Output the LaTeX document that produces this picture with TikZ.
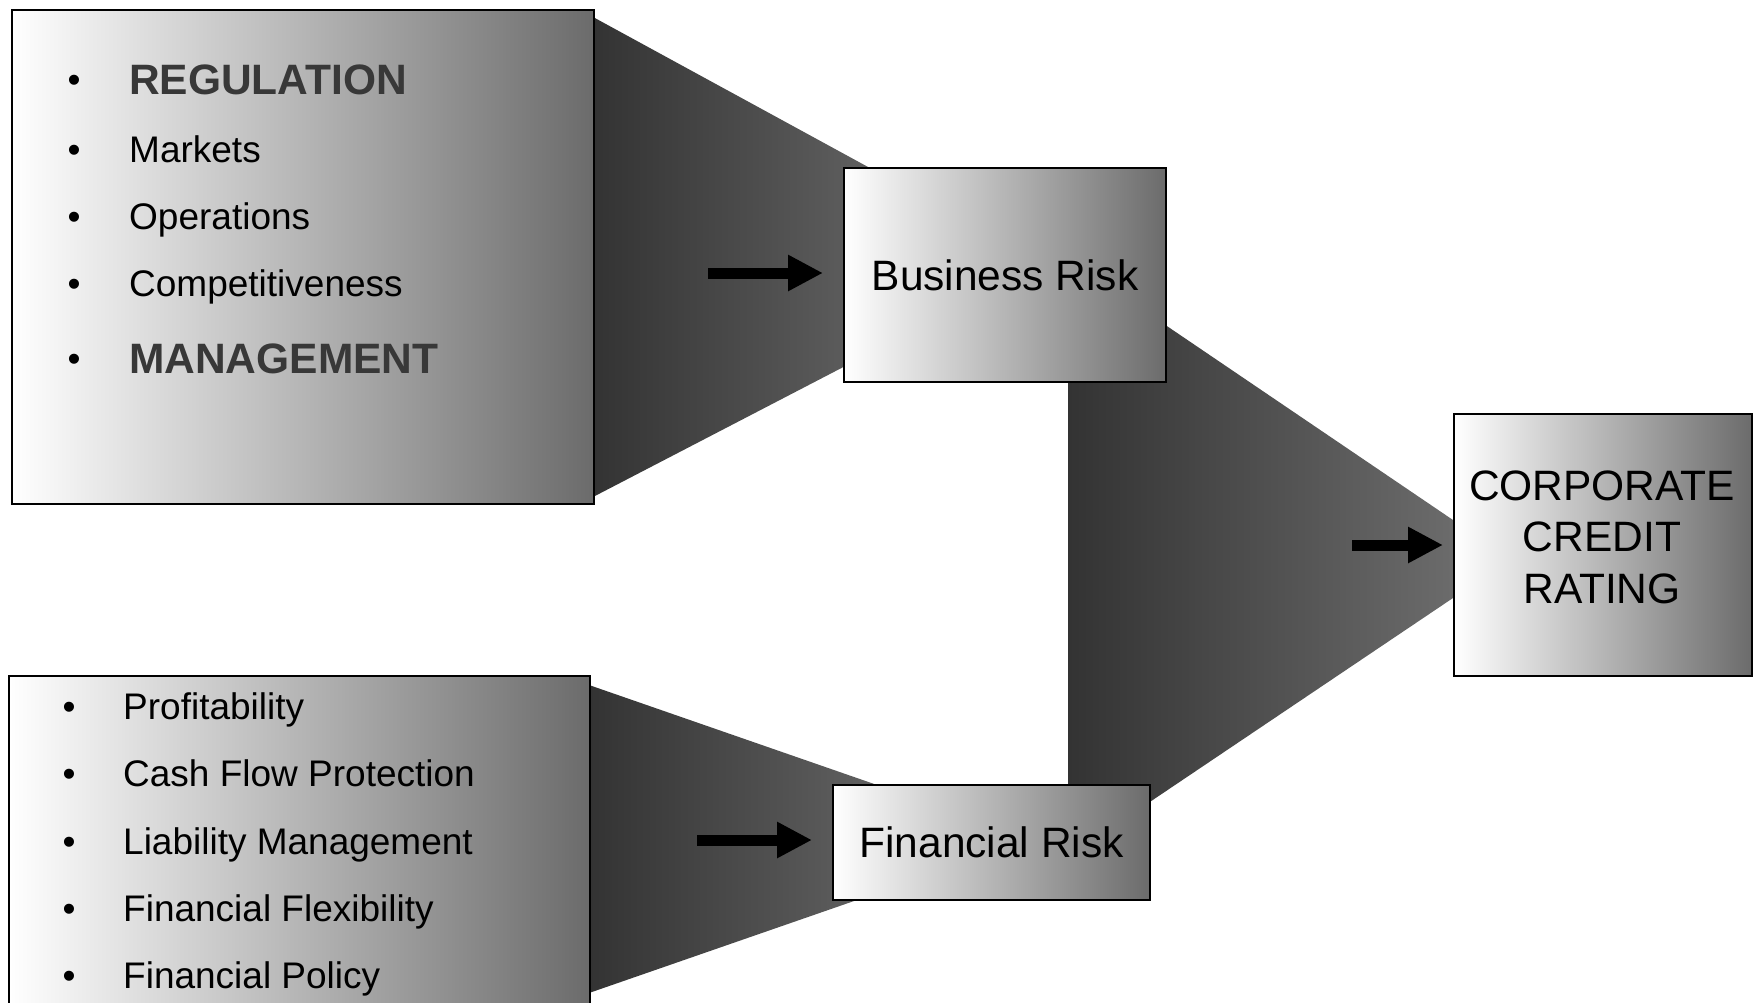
\documentclass[tikz,border=0pt]{standalone}
\usepackage{fontspec}
\setmainfont{Liberation Sans}
\usetikzlibrary{arrows.meta}
\begin{document}
\begin{tikzpicture}[x=1pt,y=-1pt,
  gbox/.style={draw=black, line width=2.2pt, rectangle, inner sep=0pt, anchor=north west,
    left color=white, middle color=black!20, right color=black!58},
  funnel/.style={left color=black!80, right color=black!62},
  bigarrow/.style={line width=11pt, -{Triangle[length=35pt,width=34pt]}},
  item/.style={anchor=base west, inner sep=0pt, font=\fontsize{37}{44}\selectfont},
  bolditem/.style={anchor=base west, inner sep=0pt, font=\fontsize{42.5}{50}\selectfont\bfseries, text=black!78},
  bul/.style={anchor=base, inner sep=0pt, font=\fontsize{37}{44}\selectfont},
  titletext/.style={font=\fontsize{42.5}{51.5}\selectfont, align=center, inner sep=0pt}
]
\useasboundingbox (0,0) rectangle (1755,1002);
\begin{scope}
\clip (0,0) rectangle (1755,1002);

% funnels
\shade[funnel] (593,17) -- (880,173.5) -- (880,348) -- (593,497) -- cycle;
\shade[funnel] (589,685) -- (880,786) -- (880,892) -- (589,993) -- cycle;
\shade[left color=black!80, right color=black!58] (1068,259) -- (1453,520) -- (1453,598) -- (1068,857) -- cycle;

% arrows
\coordinate (a1s) at (708,273);
\coordinate (a1e) at (823,273);
\coordinate (a2s) at (697,840);
\coordinate (a2e) at (812,840);
\coordinate (a3s) at (1352,545);
\coordinate (a3e) at (1443,545);
\draw[bigarrow] (a1s) -- (a1e);
\draw[bigarrow] (a2s) -- (a2e);
\draw[bigarrow] (a3s) -- (a3e);

% boxes
\node[gbox, minimum width=582pt, minimum height=494pt] (reg) at (11,9) {};
\node[gbox, minimum width=581pt, minimum height=380pt] (fin) at (8,675) {};
\node[gbox, minimum width=322pt, minimum height=214pt, font=\fontsize{42.5}{50}\selectfont] (br) at (843,167) {Business Risk};
\node[gbox, minimum width=317pt, minimum height=115pt, font=\fontsize{42.5}{50}\selectfont] (fr) at (832,784) {Financial Risk};
\node[gbox, minimum width=298pt, minimum height=262pt] (ccr) at (1453,413) {};
\node[titletext] (ccrtext) at (1602,537) {CORPORATE\\CREDIT\\RATING};

% top list
\node[bul] (b1) at (74,92.5) {•};
\node[bolditem] (t1) at (129,94.5) {REGULATION};
\node[bul] (b2) at (74,162) {•};
\node[item] (t2) at (129,162) {Markets};
\node[bul] (b3) at (74,229) {•};
\node[item] (t3) at (129,229) {Operations};
\node[bul] (b4) at (74,296) {•};
\node[item] (t4) at (129,296) {Competitiveness};
\node[bul] (b5) at (74,371) {•};
\node[bolditem] (t5) at (129,373) {MANAGEMENT};

% bottom list
\node[bul] (c1) at (69,719) {•};
\node[item] (u1) at (123,719) {Profitability};
\node[bul] (c2) at (69,786) {•};
\node[item] (u2) at (123,786) {Cash Flow Protection};
\node[bul] (c3) at (69,854) {•};
\node[item] (u3) at (123,854) {Liability Management};
\node[bul] (c4) at (69,921) {•};
\node[item] (u4) at (123,921) {Financial Flexibility};
\node[bul] (c5) at (69,988) {•};
\node[item] (u5) at (123,988) {Financial Policy};
\end{scope}
\end{tikzpicture}
\end{document}
